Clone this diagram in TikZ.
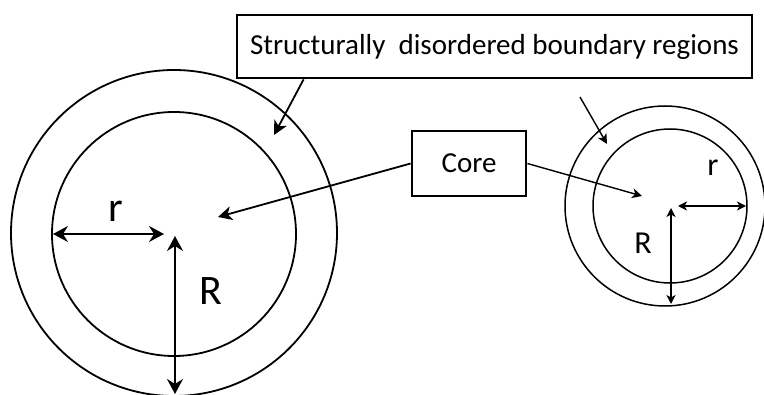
\documentclass[tikz,border=0pt]{standalone}
\usepackage{fontspec}
\setmainfont{Carlito}
\usetikzlibrary{arrows.meta,calc}
\begin{document}
\begin{tikzpicture}[x=1pt,y=-1pt,
  ring/.style={draw, line width=1.8pt},
  labelbox/.style={draw, line width=2.8pt, fill=white, inner sep=0pt},
  bigarr/.style={line width=2pt, {Stealth[length=15pt,width=16pt,inset=5pt]}-{Stealth[length=15pt,width=16pt,inset=5pt]}},
  smallarr/.style={line width=1.4pt, {Stealth[length=9pt,width=9pt,inset=2.5pt]}-{Stealth[length=9pt,width=9pt,inset=2.5pt]}},
  ptr/.style={line width=1.8pt, -{Stealth[length=14pt,width=14pt,inset=4pt]}},
  sptr/.style={line width=1.4pt, -{Stealth[length=10pt,width=10pt,inset=3pt]}}]
\useasboundingbox (0,0) rectangle (764,395);
% big particle
\draw[ring] (174,233) circle[radius=163pt];
\draw[ring] (174,234) circle[radius=122pt];
\coordinate (bL) at (53,234);
\coordinate (bC) at (164,234);
\coordinate (bT) at (175,236);
\coordinate (bB) at (175,394);
\draw[bigarr] (bL) -- (bC);
\draw[bigarr] (bT) -- (bB);
\node[font=\fontsize{42}{42}\selectfont] (br) at (116,211) {r};
\node[font=\fontsize{42}{42}\selectfont] (bR) at (211,291) {R};
% small particle
\draw[ring, line width=1.5pt] (665,206) circle[radius=100pt];
\draw[ring, line width=1.5pt] (670,206) circle[radius=77pt];
\coordinate (sL) at (678,206);
\coordinate (sR) at (746,206);
\coordinate (sT) at (671,208);
\coordinate (sB) at (671,304);
\draw[smallarr] (sL) -- (sR);
\draw[smallarr] (sT) -- (sB);
\node[font=\fontsize{32}{32}\selectfont] (sr) at (713,168) {r};
\node[font=\fontsize{32}{32}\selectfont] (sRl) at (643,243) {R};
% labels
\node[labelbox, minimum width=515pt, minimum height=63pt, font=\fontsize{29}{29}\selectfont] (sdb) at (494.5,46.5) {Structurally\ \ disordered boundary regions};
\node[labelbox, minimum width=114pt, minimum height=65pt, font=\fontsize{29}{29}\selectfont] (core) at (469,163.5) {Core};
% pointers
\coordinate (bRing) at (274,135);
\coordinate (sStart) at (580,97);
\coordinate (sRing) at (607,144);
\coordinate (bCore) at (218,217);
\coordinate (sCore) at (642,196);
\draw[ptr] ($(sdb.south west)+(68,0)$) -- (bRing);
\draw[sptr] (sStart) -- (sRing);
\draw[ptr] (core.west) -- (bCore);
\draw[sptr] (core.east) -- (sCore);
\end{tikzpicture}
\end{document}
